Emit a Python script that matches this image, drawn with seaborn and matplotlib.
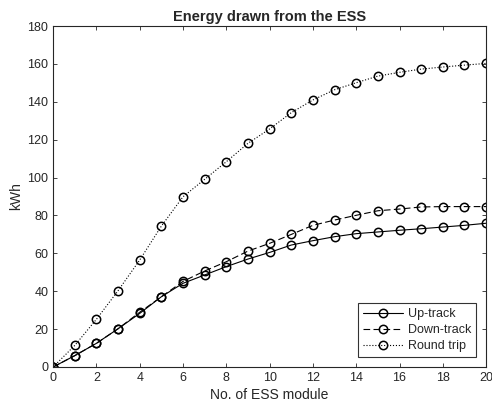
import numpy as np
import pandas as pd
import matplotlib
matplotlib.use("Agg")
import matplotlib.pyplot as plt
import seaborn as sns

modules = list(range(0, 21))
up_track = [0, 6.0, 12.5, 20.2, 28.3, 37.1, 44.2, 48.6, 53.0, 57.0, 60.5,
            64.4, 66.7, 68.8, 70.4, 71.3, 72.2, 73.0, 73.9, 74.8, 75.9]
down_track = [0, 6.0, 12.5, 20.2, 28.9, 37.1, 45.2, 50.7, 55.6, 61.2, 65.3,
              70.0, 74.8, 77.6, 80.1, 82.5, 83.4, 84.5, 84.7, 84.7, 84.7]
round_trip = [0, 11.4, 25.2, 40.3, 56.5, 74.4, 89.9, 99.1, 108.4, 118.1, 125.7,
              134.3, 141.0, 146.4, 150.1, 153.6, 155.6, 157.3, 158.4, 159.4, 160.3]
series_names = ["Up-track", "Down-track", "Round trip"]
x_ticks = list(range(0, 21, 2))
y_ticks = list(range(0, 181, 20))

sns.set_style("ticks")
plt.rcParams['font.family'] = ['Liberation Sans', 'DejaVu Sans']

fig = plt.figure(figsize=(4.92, 4.08), dpi=100)
ax = fig.add_axes([0.108, 0.1005, 0.880, 0.8355])

styles = {"Up-track": "-", "Down-track": (0, (6, 3)), "Round trip": ":"}
for name, vals in zip(series_names, [up_track, down_track, round_trip]):
    df = pd.DataFrame({"x": modules, "y": vals})
    sns.lineplot(data=df, x="x", y="y", ax=ax, color="black", linewidth=0.8,
                 linestyle=styles[name], marker="o", markersize=6,
                 markerfacecolor="none", markeredgecolor="black",
                 markeredgewidth=1.1, label=name)

ax.set_xlim(0, 20)
ax.set_ylim(0, 180)
ax.set_xticks(x_ticks)
ax.set_yticks(y_ticks)
ax.tick_params(direction="in", top=True, right=True, length=3, width=0.6,
               labelsize=9, colors="#262626")
for s in ax.spines.values():
    s.set_linewidth(0.8)
    s.set_color("#262626")
ax.set_xlabel("No. of ESS module", fontsize=10, color="#262626", labelpad=3)
ax.set_ylabel("kWh", fontsize=10, color="#262626", labelpad=3)
ax.set_title("Energy drawn from the ESS", fontsize=10.5, fontweight="bold", pad=4)

leg = ax.legend(loc="lower right", fontsize=9, frameon=True, fancybox=False,
                edgecolor="black", handlelength=3.2, borderaxespad=0.8,
                labelspacing=0.3, handletextpad=0.4, borderpad=0.4)
leg.get_frame().set_linewidth(0.8)

fig.savefig("out.png", dpi=100)
